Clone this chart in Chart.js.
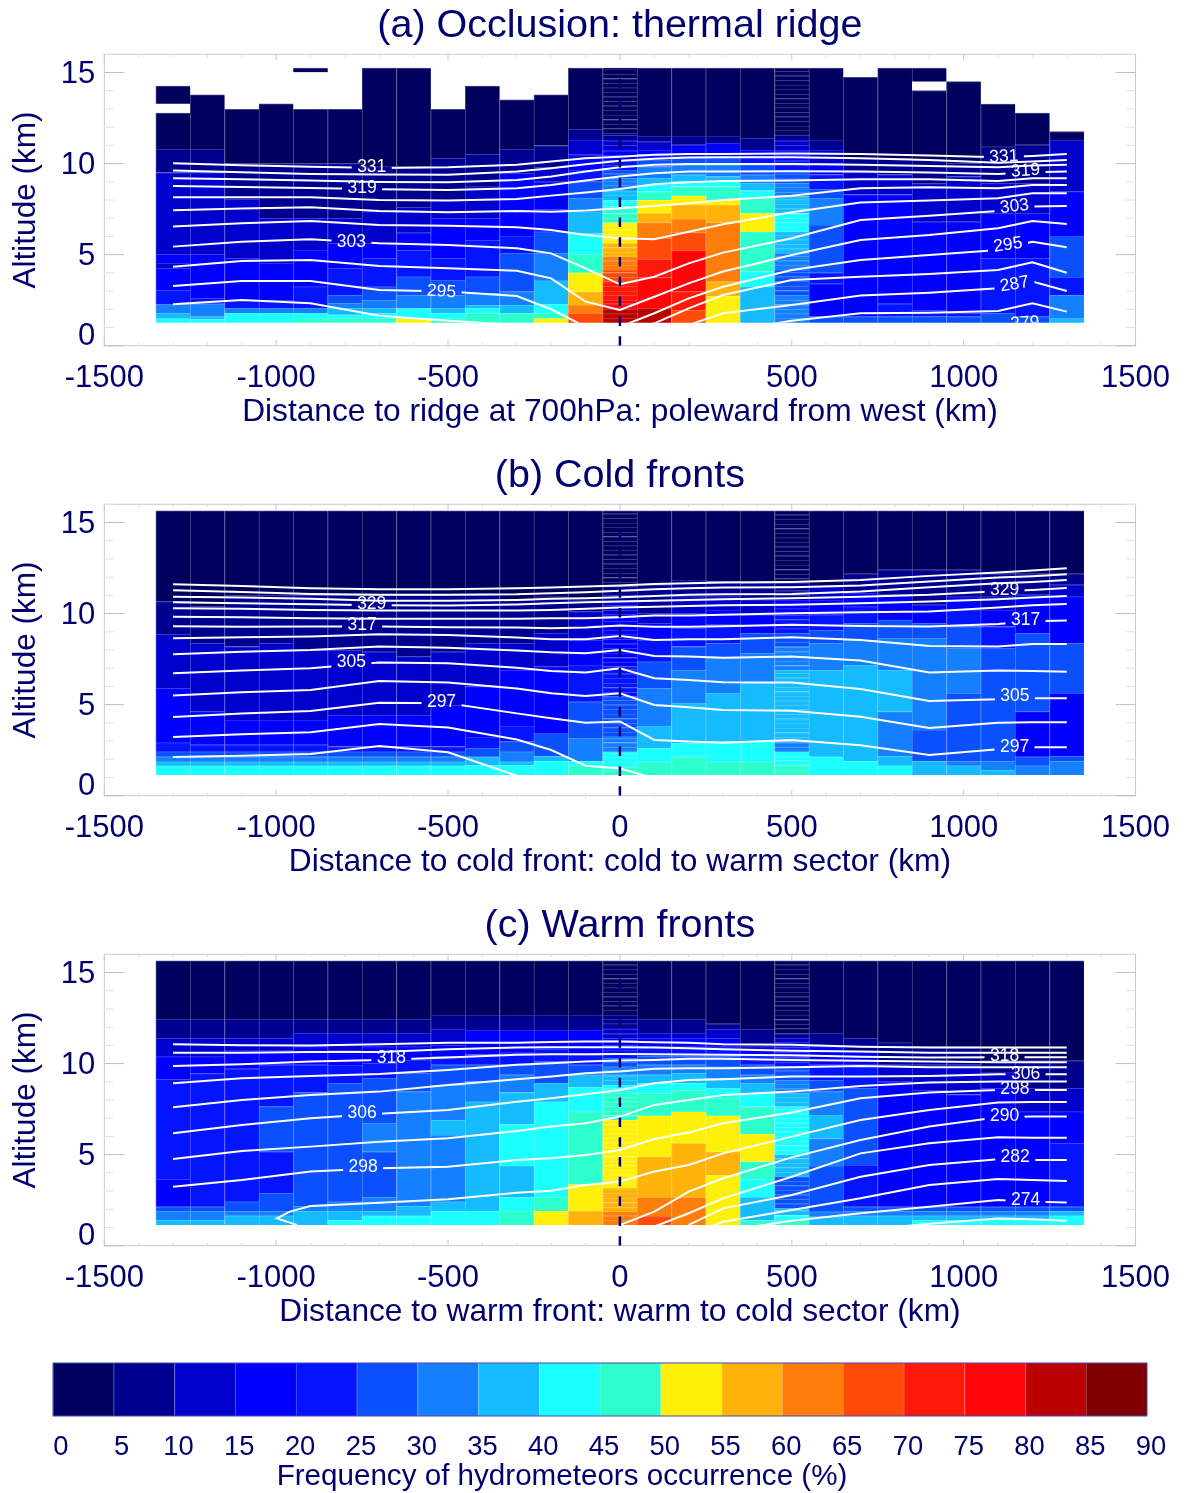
<!DOCTYPE html>
<html>
<head>
<meta charset="utf-8">
<title>Frequency of hydrometeors occurrence</title>
<script src="https://cdn.jsdelivr.net/npm/chart.js@4"></script>
<style>
  body { margin: 0; background: #fff; }
  canvas { position: absolute; left: 0; }
</style>
</head>
<body>
<canvas id="chartA" width="1184" height="450" style="top:0"></canvas>
<canvas id="chartB" width="1184" height="450" style="top:450px"></canvas>
<canvas id="chartC" width="1184" height="450" style="top:900px"></canvas>
<canvas id="chartBar" width="1184" height="143" style="top:1350px"></canvas>
<script>
// colour bins, 5 % wide
const binEdges = [0,5,10,15,20,25,30,35,40,45,50,55,60,65,70,75,80,85,90];
const binColors = ["#00005f","#000090","#0000cc","#0000ff","#0514ff","#0a50ff","#1480ff","#14bbff","#1cffff",
  "#2dffcc","#fff00a","#ffb30a","#ff7d0a","#ff4a0a","#ff190a","#ff0408","#bb0000","#800000"];

// column centres (km)
const colX = [-1300,-1200,-1100,-1000,-900,-800,-700,-600,-500,-400,-300,-200,-100,0,100,200,300,400,500,600,700,800,900,1000,1100,1200,1300];
const fineCols = [0, 500];
const fineRowKm = 0.25;

// one list per column: altitude, bin, altitude, bin, ... top altitude (null = no data)
const colsA = [
  [1.26,8,1.5,7,1.78,6,2.27,4,3.06,3,4.25,2,4.52,3,5.02,2,9.51,1,10.79,0,12.77,null,13.28,0,14.25],
  [1.26,8,1.45,7,1.6,6,2.3,4,2.6,3,5.02,2,9.51,1,10.79,0,13.77],
  [1.26,8,1.78,6,2.05,4,2.51,3,4.8,2,8.04,1,10.0,0,12.98],
  [1.26,8,1.78,6,2.05,4,2.51,3,4.52,2,7.0,1,10.0,0,13.28],
  [1.26,9,1.5,8,1.78,6,2.05,4,3.24,3,5.26,2,7.0,1,10.0,0,12.98,null,15.02,0,15.25],
  [1.26,9,1.5,8,1.7,7,2.05,6,2.33,5,2.78,4,4.25,3,5.62,2,7.0,1,10.0,0,12.98],
  [1.26,9,1.5,8,1.78,7,2.05,6,2.51,5,3.24,4,4.8,3,5.62,2,7.36,1,9.83,0,15.25],
  [1.26,10,1.5,8,2.05,6,2.78,5,3.79,4,5.24,3,6.2,2,7.6,1,9.83,0,15.25],
  [1.26,9,1.5,8,1.78,7,2.05,6,2.78,5,3.6,4,4.8,3,7.0,2,8.0,1,10.29,0,12.98],
  [1.26,9,1.78,8,2.05,7,2.23,6,2.88,5,3.79,4,5.8,3,7.0,2,8.73,1,10.51,0,14.25],
  [1.26,9,1.78,7,2.23,6,2.97,5,5.07,4,6.0,3,9.47,1,10.79,0,13.5],
  [1.26,10,1.5,9,1.78,8,2.29,7,3.57,6,5.07,5,6.26,4,7.5,3,9.0,2,9.8,1,10.99,0,13.77],
  [1.26,13,1.78,12,2.23,11,2.97,10,4.01,9,5.02,8,6.17,7,7.36,6,8.1,5,9.01,4,9.65,3,10.48,2,11.3,1,11.9,0,15.25],
  [1.26,16,2.05,15,2.51,14,3.52,13,4.16,12,4.89,11,5.62,10,6.76,9,7.64,8,8.0,7,8.55,6,9.19,5,9.65,4,10.2,3,10.75,2,11.3,1,11.67,0,15.25],
  [1.26,16,2.05,15,3.74,14,4.74,13,5.9,12,6.76,11,7.27,10,8.0,9,8.46,8,8.83,7,9.19,6,9.84,5,10.2,4,10.5,3,10.75,2,11.2,1,11.52,0,15.25],
  [1.26,13,1.96,14,2.97,15,5.22,13,6.21,12,6.96,11,7.73,10,8.24,9,8.74,8,9.01,7,9.38,6,9.93,5,10.38,3,11.03,1,11.52,0,15.25],
  [1.26,10,2.73,11,3.52,12,6.76,11,7.73,10,8.0,9,8.74,8,9.01,7,9.29,6,9.93,5,10.38,3,11.12,1,11.52,0,15.25],
  [1.26,7,3.24,8,4.07,9,6.26,10,7.27,9,8.1,8,8.52,7,8.92,6,9.38,5,9.93,4,10.38,3,10.75,1,11.4,0,15.25],
  [1.26,6,2.78,5,4.16,6,5.07,7,6.26,8,7.27,7,8.19,6,8.92,5,9.65,4,10.2,3,10.75,2,11.3,1,11.57,0,15.25],
  [1.26,5,1.6,3,3.4,4,4.0,5,6.63,6,8.1,5,8.6,4,9.4,3,10.0,2,10.75,1,11.3,0,15.25],
  [1.26,5,1.6,3,8.3,2,9.5,1,10.3,0,14.74],
  [1.26,5,1.6,4,2.3,3,8.3,2,9.4,1,10.3,0,15.25],
  [1.26,5,1.6,4,1.96,3,6.8,2,8.9,1,10.2,0,14.01,null,14.5,0,15.25],
  [1.26,5,1.6,4,1.78,3,6.8,2,9.29,1,10.02,0,14.5],
  [1.26,5,1.78,4,4.8,3,7.27,2,8.92,1,10.93,0,13.26],
  [1.26,5,1.6,4,4.8,3,7.27,2,8.92,1,11.03,0,12.77],
  [1.26,7,1.5,6,2.78,4,3.75,5,6.0,3,8.46,2,11.3,0,11.76],
];

const colsB = [
  [1.14,8,1.65,7,1.87,6,2.14,5,2.42,4,2.91,3,5.9,2,8.86,1,10.66,0,15.64],
  [1.14,8,1.65,7,1.87,6,2.14,5,2.42,4,2.8,3,4.62,2,8.37,1,10.4,0,15.64],
  [1.14,8,1.65,7,1.87,6,2.14,5,2.42,4,2.8,3,4.16,2,8.19,1,11.0,0,15.64],
  [1.14,8,1.65,7,1.87,6,2.14,5,2.42,4,2.8,3,4.16,2,8.37,1,11.0,0,15.64],
  [1.14,8,1.65,7,1.87,6,2.14,5,2.42,4,2.8,3,4.16,2,8.0,1,11.0,0,15.64],
  [1.14,8,1.65,7,1.87,6,2.14,5,2.42,4,2.7,3,4.43,2,8.0,1,11.0,0,15.64],
  [1.14,8,1.65,7,1.87,6,2.14,5,2.42,4,2.7,3,4.43,2,7.9,1,11.0,0,15.64],
  [1.14,8,1.65,7,1.87,6,2.14,5,2.42,4,2.7,3,4.43,2,7.64,1,11.0,0,15.64],
  [1.14,8,1.65,7,1.87,6,2.14,5,2.42,4,2.7,3,4.98,2,7.9,1,11.0,0,15.64],
  [1.14,8,1.68,7,2.14,5,2.6,4,3.2,3,5.99,2,8.37,1,11.03,0,15.64],
  [1.14,8,1.68,7,1.87,6,2.42,5,2.97,4,3.83,3,6.9,2,8.37,1,10.75,0,15.64],
  [1.14,8,1.9,7,2.18,5,3.42,3,7.09,2,8.92,1,10.93,0,15.64],
  [1.14,9,1.65,8,1.9,6,3.15,5,5.16,4,7.18,3,8.55,2,10.11,1,10.75,0,15.64],
  [1.14,9,1.59,8,2.42,6,3.24,5,5.44,4,7.09,3,9.93,2,10.75,1,11.48,0,15.64],
  [1.14,9,1.87,8,2.6,7,3.83,6,5.9,5,7.36,4,8.55,3,9.47,2,10.02,1,11.58,0,15.64],
  [1.14,9,2.14,8,2.88,7,5.07,6,6.9,5,8.19,4,9.19,3,10.02,2,10.93,1,11.85,0,15.64],
  [1.14,9,1.87,8,2.97,7,5.62,6,7.55,5,8.37,4,9.38,3,10.2,2,10.93,1,11.76,0,15.64],
  [1.14,9,1.87,8,2.97,7,6.17,6,7.82,5,8.92,3,9.93,2,10.75,1,11.67,0,15.64],
  [1.14,9,1.68,8,2.42,6,2.97,7,6.9,6,8.19,5,8.92,4,10.02,3,10.75,1,11.67,0,15.64],
  [1.14,8,2.14,7,6.9,6,8.37,5,9.1,4,9.93,3,10.75,2,11.48,0,15.64],
  [1.14,8,1.9,7,7.18,6,8.55,5,9.47,4,10.38,3,11.12,1,12.18,0,15.64],
  [1.14,8,1.65,7,2.18,6,4.62,7,6.9,6,8.64,5,9.65,3,11.03,1,12.4,0,15.64],
  [1.14,7,1.9,5,3.61,6,8.64,5,9.47,3,10.48,1,12.4,0,15.64],
  [1.14,7,1.65,6,1.9,5,5.62,6,8.1,5,9.29,4,10.2,3,10.93,1,12.4,0,15.64],
  [1.14,7,1.41,6,1.9,5,8.1,4,9.29,3,10.2,2,10.93,1,12.18,0,15.64],
  [1.14,6,1.65,5,2.14,3,4.62,5,8.92,3,11.03,1,12.18,0,15.64],
  [1.14,6,1.9,5,2.18,3,5.62,5,8.37,3,10.93,2,11.58,1,12.18,0,15.64],
];

const colsC = [
  [1.14,7,1.41,6,1.9,5,2.14,3,3.65,4,9.14,3,10.38,2,11.39,1,12.44,0,15.64],
  [1.14,7,1.41,6,1.9,5,2.14,4,9.45,3,10.38,2,11.39,1,12.44,0,15.64],
  [1.14,7,1.65,6,1.9,5,2.42,4,9.71,3,10.75,2,11.39,1,12.44,0,15.64],
  [1.14,7,1.65,6,1.9,5,2.88,4,5.16,5,7.64,4,9.93,3,10.75,2,11.39,1,12.44,0,15.64],
  [1.14,7,1.9,6,2.18,5,8.41,4,9.93,3,10.93,2,11.67,1,12.44,0,15.64],
  [1.14,8,1.41,7,1.9,6,2.42,5,8.92,4,9.9,3,10.75,2,11.67,1,12.44,0,15.64],
  [1.14,8,1.65,7,1.9,6,2.66,5,5.16,6,6.72,5,9.19,4,10.02,3,10.93,2,11.67,1,12.44,0,15.64],
  [1.14,8,1.65,7,2.18,6,8.46,5,9.47,4,10.2,3,10.93,2,11.67,1,12.44,0,15.64],
  [1.14,8,1.9,7,2.42,6,6.08,7,6.9,6,8.83,5,9.93,4,10.4,3,11.0,2,11.89,1,12.67,0,15.64],
  [1.14,8,1.9,7,7.91,6,9.01,5,9.93,4,10.5,3,11.85,1,12.67,0,15.64],
  [1.14,9,1.9,8,2.66,7,4.38,8,6.67,7,8.41,6,9.38,5,9.93,4,10.6,3,11.85,1,12.67,0,15.64],
  [1.14,10,1.9,9,2.66,8,7.91,7,8.92,5,10.11,4,10.8,3,11.85,1,12.67,0,15.64],
  [1.14,11,1.9,10,3.37,9,7.36,8,8.7,7,9.38,5,9.93,4,10.5,3,11.85,1,12.67,0,15.64],
  [1.14,12,1.87,11,3.15,10,6.9,9,8.37,8,8.83,7,9.38,6,9.83,5,10.3,4,10.75,3,11.39,2,11.94,1,12.67,0,15.64],
  [1.14,13,1.63,12,2.66,11,4.89,10,7.14,9,8.37,8,8.92,7,9.38,6,9.93,5,10.4,4,10.93,3,11.4,2,11.67,1,12.44,0,15.64],
  [1.14,12,2.66,11,5.62,10,7.36,9,8.55,8,8.92,7,9.47,6,9.93,5,10.4,4,10.93,3,11.4,2,11.67,1,12.44,0,15.64],
  [1.14,10,3.88,11,5.16,10,7.14,9,8.1,8,8.64,7,9.19,6,9.83,5,10.4,4,10.93,3,11.39,2,11.9,1,12.18,0,15.64],
  [1.14,9,1.41,7,2.66,8,3.64,9,4.62,10,6.14,9,7.64,8,8.37,7,8.92,6,9.38,5,9.93,4,10.38,3,10.93,1,11.89,0,15.64],
  [1.14,9,1.41,8,1.68,7,2.05,5,3.79,7,5.0,8,7.64,7,8.37,6,9.1,5,9.83,4,10.38,3,10.93,2,11.4,1,11.67,0,15.64],
  [1.14,7,1.59,6,1.87,5,4.38,6,5.88,7,7.18,6,8.46,5,9.1,4,9.93,3,10.93,1,11.67,0,15.64],
  [1.14,7,1.65,6,1.9,5,2.14,4,4.43,5,8.64,4,9.93,3,10.66,1,11.39,0,15.64],
  [1.14,7,1.65,6,1.9,5,2.14,3,9.0,2,9.93,1,11.15,0,15.64],
  [1.14,8,1.4,7,1.65,6,1.9,5,2.14,3,8.55,2,9.93,1,10.93,0,15.64],
  [1.14,8,1.4,7,1.65,6,1.9,5,2.14,3,8.3,2,9.93,1,10.93,0,15.64],
  [1.14,8,1.4,7,1.65,6,1.9,5,2.14,3,8.64,2,9.5,1,10.15,0,15.64],
  [1.14,8,1.4,7,1.65,6,1.9,5,2.14,3,7.36,2,8.64,1,10.15,0,15.64],
  [1.14,8,1.65,7,1.9,5,2.14,4,5.62,3,7.36,2,8.64,1,10.15,0,15.64],
];

// potential temperature contours, altitude (km) at each contourX
const contourX = [-1300,-1100,-900,-700,-500,-300,-200,-100,0,100,200,300,500,700,900,1100,1200,1300];

const levelsA = [331,327,323,319,315,311,307,303,299,295,291,287,283];
const linesA = [
  [10.02,9.91,9.83,9.76,9.80,9.93,10.11,10.29,10.38,10.48,10.53,10.53,10.55,10.53,10.44,10.35,10.42,10.53],
  [9.62,9.52,9.43,9.40,9.38,9.56,9.74,9.96,10.15,10.27,10.33,10.35,10.35,10.29,10.20,10.05,10.11,10.20],
  [9.19,9.14,9.07,8.99,8.97,9.10,9.29,9.56,9.80,9.93,9.98,9.98,9.98,9.93,9.87,9.80,9.89,9.93],
  [8.77,8.72,8.66,8.59,8.55,8.64,8.83,9.07,9.29,9.47,9.56,9.56,9.58,9.56,9.51,9.43,9.52,9.56],
  [8.15,8.15,8.15,8.00,7.97,8.06,8.24,8.41,8.61,8.86,8.97,9.05,9.07,9.14,9.14,9.05,9.19,9.19],
  [7.44,7.53,7.60,7.40,7.33,7.40,7.36,7.42,7.55,7.67,7.82,8.00,8.24,8.64,8.70,8.64,8.83,8.83],
  [6.54,6.72,6.85,6.63,6.59,6.50,6.35,6.08,5.90,5.84,6.26,6.67,7.33,7.86,7.97,8.10,8.37,8.37],
  [5.44,5.71,5.84,5.62,5.53,5.35,5.07,4.25,3.37,3.79,4.52,5.11,5.90,6.90,7.14,7.40,7.64,7.67],
  [4.34,4.65,4.71,4.38,4.25,4.12,3.70,2.42,1.96,2.69,3.42,4.07,4.98,5.80,6.08,6.45,6.85,6.68],
  [3.28,3.55,3.55,3.06,2.97,2.73,2.00,1.04,1.04,1.78,2.60,3.24,4.16,4.71,4.98,5.26,5.71,5.40],
  [2.27,2.51,2.33,1.65,1.37,1.14,0.86,0.68,0.68,1.23,2.05,2.78,3.61,3.79,3.94,4.16,4.58,4.01],
  [null,null,null,null,null,null,null,null,null,null,1.14,1.78,2.24,2.75,2.91,3.15,3.52,3.00],
  [null,null,null,null,null,null,null,null,null,null,null,0.77,1.37,1.78,1.81,1.90,2.33,1.87],
];
const labelsA = [
  [331,-722,9.80,0],[319,-750,8.63,0],[303,-781,5.68,0],[295,-519,2.97,4],
  [331,1117,10.38,-3],[319,1180,9.60,-4],[303,1148,7.64,-6],[295,1129,5.53,-8],[287,1148,3.37,-10],[279,1178,1.23,-3],
];

const levelsB = [341,337,333,329,325,321,317,313,309,305,301,297,293,289];
const linesB = [
  [11.61,11.52,11.39,11.34,11.34,11.39,11.43,11.48,11.54,11.63,11.67,11.70,11.74,11.85,12.07,12.25,12.36,12.49],
  [11.28,11.19,11.08,11.03,11.03,11.06,11.12,11.17,11.25,11.34,11.39,11.43,11.45,11.54,11.76,11.98,12.05,12.16],
  [10.93,10.88,10.81,10.70,10.70,10.75,10.81,10.84,10.90,10.97,11.03,11.06,11.08,11.21,11.45,11.67,11.74,11.85],
  [10.62,10.57,10.51,10.46,10.44,10.50,10.57,10.62,10.66,10.71,10.75,10.79,10.84,10.93,11.03,11.23,11.30,11.41],
  [10.29,10.26,10.20,10.17,10.17,10.17,10.20,10.26,10.33,10.38,10.42,10.46,10.48,10.57,10.66,10.79,10.88,10.97],
  [9.83,9.80,9.74,9.72,9.72,9.72,9.74,9.74,9.80,9.89,9.89,9.93,10.02,10.07,10.11,10.33,10.46,10.53],
  [9.30,9.27,9.29,9.29,9.25,9.23,9.19,9.23,9.34,9.27,9.27,9.30,9.38,9.32,9.29,9.43,9.58,9.62],
  [8.64,8.70,8.74,8.86,8.83,8.68,8.59,8.59,8.77,8.55,8.59,8.59,8.70,8.55,8.22,8.19,8.33,8.33],
  [7.77,7.91,8.00,8.19,8.13,7.97,7.87,7.82,8.00,7.67,7.64,7.58,7.64,7.42,6.76,6.87,6.85,6.81],
  [6.72,6.87,7.00,7.31,7.27,7.03,6.85,6.76,7.00,6.45,6.35,6.23,6.21,5.86,5.20,5.29,5.35,5.35],
  [5.50,5.68,5.81,6.30,6.21,5.88,5.62,5.48,5.62,4.98,4.85,4.71,4.67,4.34,3.72,4.01,4.03,4.03],
  [4.32,4.52,4.65,5.11,5.07,4.52,4.25,4.01,4.08,3.06,2.97,2.91,3.06,2.77,2.23,2.55,2.66,2.66],
  [3.22,3.37,3.48,3.94,3.74,3.09,2.51,1.65,1.50,0.95,null,null,null,null,null,null,null,null],
  [2.12,2.20,2.29,2.73,2.38,1.10,0.49,null,null,null,null,null,null,null,null,null,null,null],
];
const labelsB = [
  [329,-722,10.51,0],[317,-750,9.34,0],[305,-781,7.31,0],[297,-519,5.11,0],
  [329,1119,11.26,0],[317,1180,9.62,0],[305,1149,5.44,0],[297,1148,2.66,0],
];

const levelsC = [326,322,318,314,310,306,302,298,294,290,286,282,278,274,270];
const linesC = [
  [11.06,11.01,10.99,11.06,11.14,11.15,11.19,11.21,11.21,11.17,11.15,11.06,11.03,10.93,10.88,10.88,10.88,10.88],
  [10.60,10.60,10.64,10.64,10.79,10.88,10.90,10.90,10.90,10.88,10.84,10.79,10.71,10.66,10.60,10.60,10.60,10.60],
  [9.87,9.96,10.11,10.20,10.33,10.48,10.51,10.51,10.53,10.51,10.50,10.48,10.46,10.38,10.33,10.35,10.35,10.35],
  [8.92,9.19,9.32,9.43,9.65,9.93,10.02,10.11,10.17,10.20,10.26,10.26,10.20,10.15,10.11,10.07,10.07,10.07],
  [7.60,8.00,8.28,8.46,8.83,9.14,9.29,9.47,9.56,9.71,9.74,9.74,9.80,9.87,9.80,9.80,9.80,9.80],
  [6.17,6.63,7.00,7.24,7.45,7.91,8.10,8.32,8.55,8.92,9.10,9.14,9.29,9.29,9.32,9.41,9.41,9.41],
  [4.76,5.20,5.44,5.71,5.90,6.30,6.54,6.72,7.09,7.73,8.00,8.28,8.46,8.77,8.96,9.01,9.01,9.01],
  [3.24,3.61,4.07,4.25,4.34,4.71,4.80,4.98,5.26,5.86,6.21,6.72,7.31,8.10,8.41,8.55,8.55,8.55],
  // 294 K folds back near -1000 km, see loopX
  [1.14,1.50,1.87,2.18,2.36,2.55,2.91,3.02,3.33,3.52,4.07,4.43,5.07,5.99,6.90,7.45,7.86,7.89,7.89],
  [null,null,null,null,null,null,null,null,1.14,1.87,2.97,3.70,4.85,5.80,6.54,7.05,7.09,7.09],
  [null,null,null,null,null,null,null,null,null,1.05,1.78,2.60,3.79,5.07,5.62,5.95,5.93,5.93],
  [null,null,null,null,null,null,null,null,null,null,1.14,2.05,2.78,3.79,4.43,4.74,4.71,4.71],
  [null,null,null,null,null,null,null,null,null,null,0.50,1.32,1.96,2.60,3.33,3.66,3.61,3.55],
  [null,null,null,null,null,null,null,null,null,null,null,0.80,1.37,1.78,2.14,2.51,2.42,2.37],
  [null,null,null,null,null,null,null,null,null,null,null,null,null,0.85,1.20,1.50,1.45,1.37],
];
const loopX = [-940,-998,-960,-900,-700,-500,-300,-200,-100,0,100,200,300,500,700,900,1100,1200,1300];
const labelsC = [
  [318,-665,10.29,0],[306,-750,7.27,0],[298,-747,4.29,0],
  [318,1119,10.42,0],[306,1180,9.41,0],[298,1149,8.60,0],[290,1119,7.12,0],[282,1150,4.85,0],[274,1180,2.50,0],
];

// dashed line at the feature position
const markerX = [0, 0];
const markerY = [0, 14.9];

const xTicksEvery = 500;
const yTicksEvery = 5;

const NAVY = "#00006e";
Chart.defaults.font.family = '"Liberation Sans", Helvetica, Arial, sans-serif';
Chart.defaults.color = NAVY;

// plot box inside each 1184x450 canvas
const PLOT = { left: 104.3, right: 1137.7, top: 54.3, bottom: 345.7 };
const KM_PX = (PLOT.bottom - PLOT.top) / 16;

function seam(hex) {
  const n = parseInt(hex.slice(1), 16);
  const mix = (c) => Math.round(c + (255 - c) * 0.27);
  return `rgb(${mix(n >> 16)},${mix((n >> 8) & 255)},${mix(n & 255)})`;
}

function cellPoints(cols) {
  const pts = [];
  cols.forEach((col, i) => {
    const x = colX[i];
    for (let k = 0; k + 2 < col.length; k += 2) {
      const lo = col[k], bin = col[k + 1], hi = col[k + 2];
      if (bin === null) continue;
      if (fineCols.includes(x)) {
        for (let a = lo; a < hi - 0.01; a += fineRowKm) {
          pts.push({ x: x, y: [a, Math.min(a + fineRowKm, hi)], bin: bin });
        }
      } else {
        pts.push({ x: x, y: [lo, hi], bin: bin });
      }
    }
  });
  return pts;
}

const framePlugin = {
  id: "frame",
  beforeDatasetsDraw(chart) {
    const { ctx, chartArea: a, scales: { x, y } } = chart;
    ctx.save();
    ctx.lineWidth = 1;
    ctx.strokeStyle = "#c6c6e4";
    ctx.strokeRect(a.left, a.top, a.right - a.left, a.bottom - a.top);
    x.ticks.forEach((t) => {
      const px = x.getPixelForValue(t.value);
      const major = t.value % xTicksEvery === 0;
      const len = major ? 6 : 3;
      ctx.strokeStyle = major ? "#c6c6e4" : "#dcdcee";
      ctx.beginPath();
      ctx.moveTo(px, a.top); ctx.lineTo(px, a.top + len);
      ctx.moveTo(px, a.bottom); ctx.lineTo(px, a.bottom - len);
      ctx.stroke();
    });
    y.ticks.forEach((t) => {
      const py = y.getPixelForValue(t.value);
      const major = t.value % yTicksEvery === 0;
      const len = major ? 20 : 10;
      ctx.strokeStyle = major ? "#bcbcdc" : "#e2e2f0";
      ctx.beginPath();
      ctx.moveTo(a.left, py); ctx.lineTo(a.left + len, py);
      ctx.moveTo(a.right, py); ctx.lineTo(a.right - len, py);
      ctx.stroke();
    });
    ctx.restore();
  },
};

// leaves a hole in a contour where its label sits, then writes the labels
const contourPlugin = {
  id: "contourLabels",
  beforeDatasetDraw(chart, args) {
    const ds = chart.data.datasets[args.index];
    if (!ds.gaps) return;
    const { ctx, width, height, scales: { x, y } } = chart;
    ctx.save();
    ctx.beginPath();
    ctx.rect(0, 0, width, height);
    ds.gaps.forEach((l) => ctx.rect(x.getPixelForValue(l[1]) - 20, y.getPixelForValue(l[2]) - 12, 40, 24));
    ctx.clip("evenodd");
  },
  afterDatasetDraw(chart, args) {
    if (chart.data.datasets[args.index].gaps) chart.ctx.restore();
  },
  afterDatasetsDraw(chart) {
    const { ctx, chartArea: a, scales: { x, y } } = chart;
    const labels = chart.options.plugins.contourLabels.labels;
    const floor = chart.options.plugins.contourLabels.floor;
    ctx.save();
    ctx.beginPath();
    ctx.rect(a.left, a.top, a.right - a.left, y.getPixelForValue(floor) - a.top);
    ctx.clip();
    ctx.fillStyle = "#fff";
    ctx.font = '17.5px "Liberation Sans"';
    ctx.textAlign = "center";
    ctx.textBaseline = "middle";
    labels.forEach((l) => {
      ctx.save();
      ctx.translate(x.getPixelForValue(l[1]), y.getPixelForValue(l[2]));
      ctx.rotate(l[3] * Math.PI / 180);
      ctx.fillText(String(l[0]), 0, 0);
      ctx.restore();
    });
    ctx.restore();
  },
};

function makePanel(id, title, xTitle, cols, levels, lines, labels) {
  const pts = cellPoints(cols);
  const floor = cols[0][0];
  const contourClip = { left: 0, top: 0, right: 0, bottom: -floor * KM_PX };
  const contourSets = lines.map((line, i) => ({
    type: "line",
    order: 2,
    label: String(levels[i]),
    data: line.map((v, k) => ({ x: (line.length === contourX.length ? contourX : loopX)[k], y: v })),
    borderColor: "#fff",
    borderWidth: 2,
    pointRadius: 0,
    tension: 0,
    clip: contourClip,
    gaps: labels.filter((l) => l[0] === levels[i]),
  }));
  return new Chart(document.getElementById(id), {
    type: "bar",
    data: {
      datasets: [
        {
          order: 3,
          label: "Frequency (%)",
          data: pts,
          backgroundColor: pts.map((p) => binColors[p.bin]),
          borderColor: pts.map((p) => seam(binColors[p.bin])),
          borderWidth: { left: 1, top: 1, right: 0, bottom: 0 },
          borderSkipped: false,
          barPercentage: 1,
          categoryPercentage: 1,
          grouped: false,
        },
        ...contourSets,
        {
          type: "line",
          order: 1,
          label: "marker",
          data: markerX.map((v, k) => ({ x: v, y: markerY[k] })),
          borderColor: NAVY,
          borderWidth: 2.5,
          borderDash: [9.5, 10.3],
          pointRadius: 0,
        },
      ],
    },
    options: {
      responsive: false,
      animation: false,
      events: [],
      devicePixelRatio: 1,
      layout: { padding: { left: 0, right: 1184 - PLOT.right, top: 0, bottom: 0 } },
      plugins: {
        legend: { display: false },
        tooltip: { enabled: false },
        title: {
          display: true,
          fullSize: false,
          text: title,
          color: NAVY,
          font: { size: 39.5, weight: "normal", lineHeight: 1 },
          padding: { top: 6, bottom: PLOT.top - 6 - 39.5 },
        },
        contourLabels: { labels: labels, floor: floor },
      },
      scales: {
        x: {
          type: "linear",
          offset: false,
          min: -1500,
          max: 1500,
          grid: { display: false, drawTicks: false },
          border: { display: false },
          afterFit: (s) => { s.height = 450 - PLOT.bottom; },
          ticks: {
            stepSize: 100,
            autoSkip: false,
            maxRotation: 0,
            padding: 14,
            font: { size: 31 },
            callback: (v) => (v % xTicksEvery === 0 ? String(v) : ""),
          },
          title: { display: true, text: xTitle, color: NAVY, font: { size: 31.7 }, padding: { top: 0, bottom: 19 } },
        },
        y: {
          min: 0,
          max: 16,
          grid: { display: false, drawTicks: false },
          border: { display: false },
          afterFit: (s) => { s.width = PLOT.left; },
          ticks: {
            stepSize: 1,
            autoSkip: false,
            padding: 9,
            labelOffset: 2,
            font: { size: 31, lineHeight: 0.75 },
            // the 0 sits a little higher, clear of the x labels
            callback: (v) => (v === 0 ? ["0", ""] : v % yTicksEvery === 0 ? String(v) : ""),
          },
          title: { display: true, text: "Altitude (km)", color: NAVY, font: { size: 31.5 }, padding: { top: 7, bottom: 0 } },
        },
      },
    },
    plugins: [framePlugin, contourPlugin],
  });
}

makePanel("chartA", "(a) Occlusion: thermal ridge", "Distance to ridge at 700hPa: poleward from west (km)", colsA, levelsA, linesA, labelsA);
makePanel("chartB", "(b) Cold fronts", "Distance to cold front: cold to warm sector (km)", colsB, levelsB, linesB, labelsB);
makePanel("chartC", "(c) Warm fronts", "Distance to warm front: warm to cold sector (km)", colsC, levelsC, linesC, labelsC);

// colour bar
const barPts = binColors.map((c, i) => ({ x: (binEdges[i] + binEdges[i + 1]) / 2, y: [0, 1] }));
new Chart(document.getElementById("chartBar"), {
  type: "bar",
  data: {
    datasets: [{
      label: "Frequency of hydrometeors occurrence (%)",
      data: barPts,
      backgroundColor: binColors,
      borderColor: binColors.map(seam),
      borderWidth: { left: 1, top: 0, right: 0, bottom: 0 },
      borderSkipped: false,
      barPercentage: 1,
      categoryPercentage: 1,
    }],
  },
  options: {
    responsive: false,
    animation: false,
    events: [],
    devicePixelRatio: 1,
    layout: { padding: { left: 0, right: 1184 - 1147, top: 13, bottom: 0 } },
    plugins: { legend: { display: false }, tooltip: { enabled: false } },
    scales: {
      x: {
        type: "linear",
        offset: false,
        min: binEdges[0],
        max: binEdges[binEdges.length - 1],
        grid: { display: false, drawTicks: false },
        border: { display: false },
        afterFit: (s) => { s.height = 143 - 66; },
        ticks: {
          stepSize: 5,
          autoSkip: false,
          maxRotation: 0,
          padding: 15,
          labelOffset: 4,
          font: { size: 27.4 },
          callback: (v) => (v < 10 ? " " + v : String(v)),
        },
      },
      y: {
        min: 0,
        max: 1,
        display: true,
        afterFit: (s) => { s.width = 53; },
        grid: { display: false },
        border: { display: false },
        ticks: { display: false },
      },
    },
  },
  plugins: [{
    id: "barFrame",
    afterDatasetsDraw(chart) {
      const { ctx, chartArea: a } = chart;
      ctx.save();
      ctx.strokeStyle = "#4646b4";
      ctx.lineWidth = 1;
      ctx.strokeRect(a.left, a.top, a.right - a.left, a.bottom - a.top);
      ctx.fillStyle = NAVY;
      ctx.font = '29.6px "Liberation Sans"';
      ctx.textAlign = "center";
      ctx.textBaseline = "middle";
      ctx.fillText("Frequency of hydrometeors occurrence (%)", 562, 127);
      ctx.restore();
    },
  }],
});
</script>
</body>
</html>
